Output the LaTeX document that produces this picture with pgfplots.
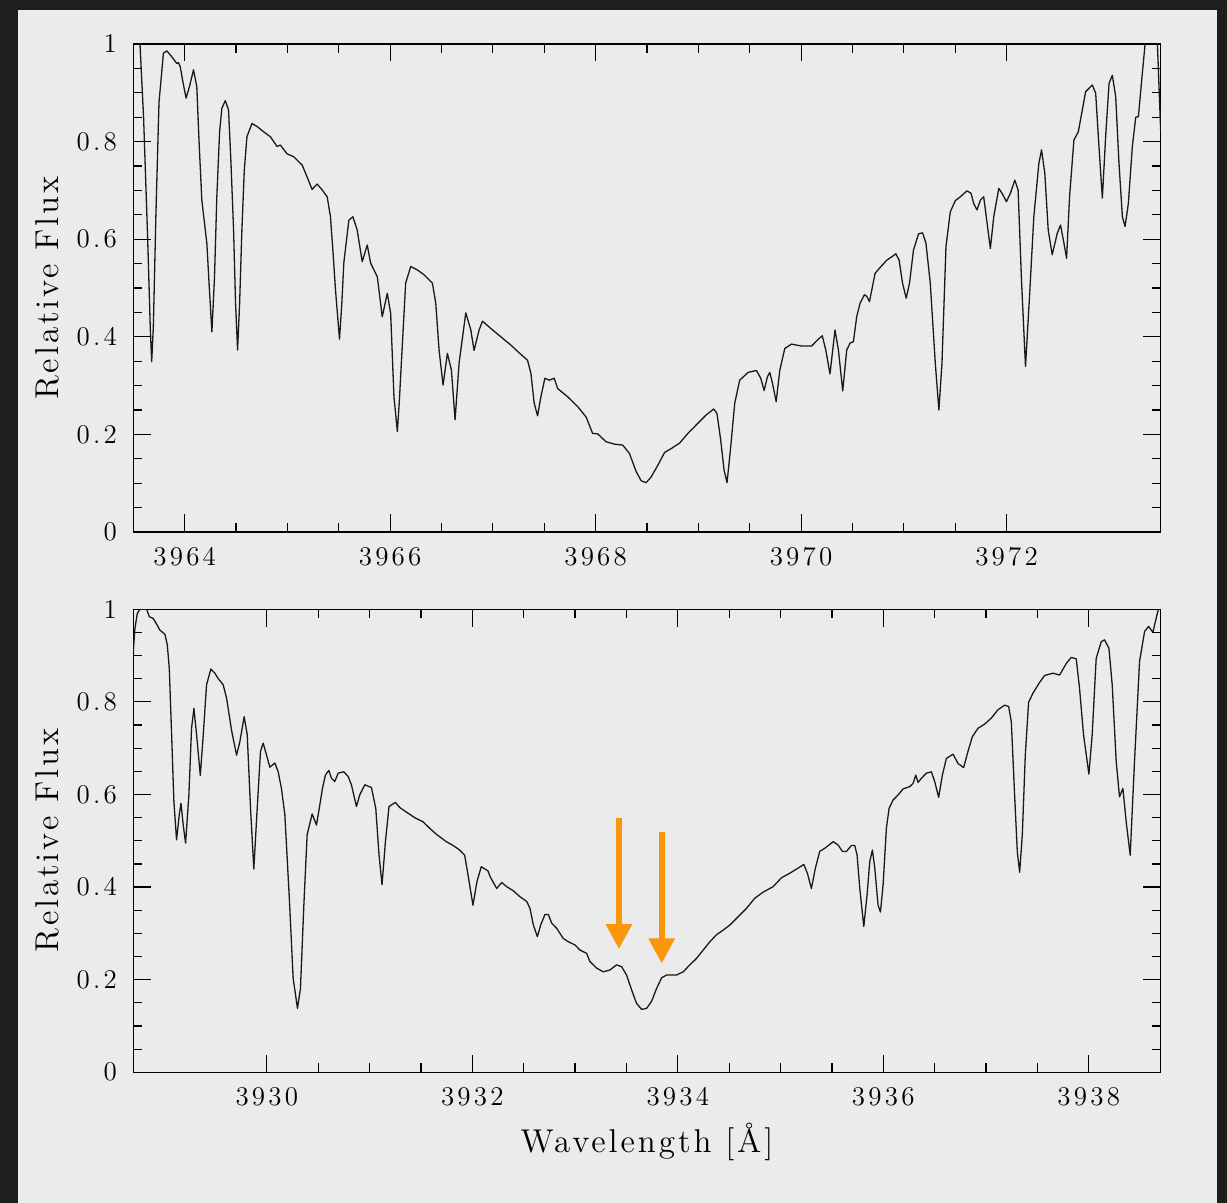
\documentclass[border=0pt]{standalone}
\usepackage{fontspec}
\usepackage{pgfplots}
\pgfplotsset{compat=1.18}
\usetikzlibrary{arrows.meta}
\definecolor{panel}{RGB}{235,235,235}
\definecolor{framecol}{RGB}{30,30,30}
\definecolor{arroworange}{RGB}{250,150,10}
\newfontfamily\lmlbl{lmroman12-regular}[Extension=.otf, LetterSpace=9]
\newfontfamily\lmtick{lmroman12-regular}[Extension=.otf, LetterSpace=12]
\newcommand\lblfont{\lmlbl\fontsize{16.5}{19}\selectfont}
\newcommand\tickfont{\lmtick\fontsize{13.5}{15}\selectfont}

\pgfplotsset{
  spec/.style={
    scale only axis, width=513.7pt,
    axis line style={line width=0.65pt},
    major tick length=8.75pt, minor tick length=4.4pt,
    every tick/.style={black, line width=0.6pt},
    tick align=inside,
    minor x tick num=3, minor y tick num=3,
    ymin=0, ymax=1, ytick={0,0.2,0.4,0.6,0.8,1},
    scaled ticks=false,
    /pgf/number format/assume math mode=true,
    /pgf/number format/1000 sep={},
    ticklabel style={font=\tickfont},
    yticklabel style={anchor=east, inner xsep=0pt, xshift=-8pt},
    xticklabel style={anchor=base, inner ysep=0pt, yshift=-16.7pt},
    every axis y label/.style={at={(axis description cs:-0.0832,0.5)}, rotate=90, anchor=center, font=\lblfont},
    every axis x label/.style={at={(axis description cs:0.5,0)}, anchor=base, yshift=-40pt, font=\lblfont},
    ylabel={Relative Flux},
  },
  spec line/.style={black!90, line width=0.65pt, line join=round}
}

\begin{document}
\begin{tikzpicture}
\fill[framecol] (0,0) rectangle (613.5pt,601.5pt);
\fill[panel] (9pt,0) rectangle (608.35pt,596.5pt);

\begin{axis}[spec, at={(66.65pt,335.5pt)}, anchor=south west, height=244pt,
  xmin=3963.5, xmax=3973.5, xtick={3964,3966,3968,3970,3972}]
\addplot[spec line] table {
3963.500 1.12
3963.565 1.00
3963.600 0.85
3963.640 0.60
3963.665 0.42
3963.679 0.349
3963.695 0.42
3963.720 0.65
3963.750 0.88
3963.793 0.981
3963.826 0.986
3963.874 0.974
3963.923 0.960
3963.939 0.962
3963.956 0.954
3963.985 0.92
3964.014 0.889
3964.047 0.913
3964.086 0.947
3964.118 0.913
3964.140 0.80
3964.167 0.680
3964.216 0.591
3964.240 0.50
3964.265 0.410
3964.290 0.52
3964.313 0.687
3964.340 0.82
3964.362 0.868
3964.395 0.884
3964.427 0.865
3964.450 0.76
3964.476 0.619
3964.495 0.47
3964.515 0.373
3964.535 0.47
3964.557 0.619
3964.580 0.74
3964.606 0.810
3964.655 0.837
3964.704 0.831
3964.769 0.820
3964.834 0.810
3964.899 0.790
3964.931 0.793
3964.996 0.775
3965.061 0.769
3965.143 0.752
3965.191 0.728
3965.240 0.702
3965.289 0.713
3965.338 0.701
3965.387 0.687
3965.419 0.646
3965.445 0.57
3965.468 0.496
3965.507 0.395
3965.530 0.47
3965.549 0.551
3965.598 0.639
3965.637 0.646
3965.679 0.619
3965.728 0.554
3965.777 0.588
3965.810 0.551
3965.875 0.523
3965.923 0.441
3965.972 0.489
3966.005 0.448
3966.037 0.277
3966.070 0.206
3966.090 0.27
3966.109 0.346
3966.151 0.510
3966.200 0.544
3966.265 0.537
3966.330 0.527
3966.411 0.510
3966.444 0.469
3966.476 0.373
3966.515 0.301
3966.557 0.366
3966.596 0.332
3966.632 0.230
3966.671 0.346
3966.736 0.449
3966.785 0.414
3966.817 0.372
3966.866 0.414
3966.899 0.432
3966.980 0.417
3967.077 0.400
3967.175 0.383
3967.256 0.367
3967.337 0.352
3967.370 0.325
3967.402 0.264
3967.435 0.238
3967.467 0.277
3967.506 0.315
3967.549 0.311
3967.597 0.315
3967.630 0.294
3967.728 0.277
3967.825 0.257
3967.906 0.236
3967.971 0.202
3968.020 0.201
3968.101 0.185
3968.183 0.180
3968.264 0.178
3968.329 0.161
3968.394 0.124
3968.443 0.105
3968.492 0.101
3968.541 0.113
3968.606 0.137
3968.671 0.163
3968.736 0.171
3968.817 0.182
3968.898 0.202
3968.996 0.223
3969.077 0.240
3969.149 0.252
3969.181 0.243
3969.217 0.189
3969.250 0.127
3969.279 0.101
3969.315 0.175
3969.354 0.264
3969.402 0.311
3969.484 0.327
3969.565 0.331
3969.607 0.315
3969.640 0.290
3969.672 0.318
3969.695 0.327
3969.721 0.305
3969.757 0.267
3969.793 0.332
3969.841 0.376
3969.906 0.385
3970.004 0.381
3970.102 0.381
3970.167 0.395
3970.206 0.402
3970.240 0.373
3970.281 0.324
3970.330 0.414
3970.363 0.373
3970.405 0.289
3970.444 0.373
3970.476 0.387
3970.509 0.390
3970.541 0.441
3970.574 0.469
3970.616 0.486
3970.639 0.483
3970.665 0.472
3970.688 0.496
3970.720 0.530
3970.769 0.542
3970.834 0.557
3970.883 0.564
3970.922 0.570
3970.954 0.557
3970.987 0.510
3971.023 0.479
3971.055 0.510
3971.094 0.578
3971.143 0.611
3971.182 0.613
3971.215 0.592
3971.257 0.510
3971.306 0.346
3971.341 0.250
3971.371 0.346
3971.410 0.585
3971.452 0.656
3971.501 0.679
3971.550 0.687
3971.615 0.699
3971.654 0.694
3971.680 0.673
3971.712 0.660
3971.745 0.680
3971.777 0.687
3971.810 0.633
3971.842 0.581
3971.875 0.646
3971.924 0.704
3971.956 0.694
3971.998 0.677
3972.037 0.694
3972.080 0.721
3972.112 0.701
3972.145 0.516
3972.184 0.339
3972.223 0.482
3972.265 0.646
3972.314 0.755
3972.340 0.783
3972.372 0.735
3972.405 0.619
3972.444 0.568
3972.493 0.612
3972.525 0.629
3972.558 0.592
3972.584 0.561
3972.613 0.687
3972.655 0.803
3972.698 0.820
3972.737 0.865
3972.769 0.902
3972.834 0.916
3972.867 0.899
3972.899 0.790
3972.932 0.684
3972.964 0.810
3972.997 0.919
3973.029 0.936
3973.062 0.892
3973.094 0.755
3973.127 0.646
3973.153 0.626
3973.185 0.673
3973.224 0.790
3973.257 0.850
3973.283 0.851
3973.315 0.926
3973.348 1.000
3973.380 1.06
3973.430 1.06
3973.468 1.00
3973.500 0.82
};
\end{axis}

\begin{axis}[spec, at={(66.65pt,65.35pt)}, anchor=south west, height=231.5pt,
  xmin=3928.7, xmax=3938.7, xtick={3930,3932,3934,3936,3938},
  xlabel={Wavelength [Å]}]
\addplot[spec line] table {
3928.700 0.909
3928.716 0.959
3928.739 0.991
3928.765 1.000
3928.830 1.000
3928.856 0.984
3928.894 0.980
3928.927 0.968
3928.959 0.955
3929.008 0.946
3929.031 0.923
3929.050 0.873
3929.073 0.729
3929.095 0.585
3929.121 0.502
3929.147 0.556
3929.164 0.581
3929.186 0.534
3929.209 0.495
3929.241 0.599
3929.267 0.743
3929.290 0.786
3929.316 0.729
3929.352 0.641
3929.381 0.729
3929.413 0.837
3929.455 0.871
3929.494 0.862
3929.527 0.850
3929.575 0.837
3929.608 0.808
3929.656 0.739
3929.705 0.685
3929.737 0.714
3929.779 0.768
3929.809 0.729
3929.841 0.570
3929.873 0.439
3929.906 0.570
3929.938 0.693
3929.964 0.711
3929.997 0.685
3930.029 0.659
3930.078 0.668
3930.110 0.649
3930.142 0.613
3930.175 0.556
3930.217 0.383
3930.256 0.203
3930.298 0.138
3930.327 0.181
3930.360 0.361
3930.392 0.513
3930.441 0.558
3930.483 0.534
3930.515 0.577
3930.541 0.613
3930.570 0.642
3930.603 0.652
3930.629 0.635
3930.661 0.628
3930.694 0.646
3930.749 0.649
3930.791 0.639
3930.823 0.621
3930.872 0.574
3930.904 0.599
3930.953 0.621
3931.018 0.615
3931.060 0.570
3931.092 0.469
3931.121 0.405
3931.154 0.498
3931.189 0.574
3931.251 0.583
3931.293 0.572
3931.358 0.562
3931.439 0.550
3931.520 0.541
3931.585 0.527
3931.650 0.514
3931.747 0.498
3931.812 0.490
3931.877 0.480
3931.925 0.469
3931.958 0.426
3932.006 0.361
3932.045 0.412
3932.087 0.444
3932.152 0.435
3932.172 0.423
3932.237 0.397
3932.286 0.410
3932.334 0.401
3932.399 0.392
3932.464 0.379
3932.529 0.369
3932.561 0.354
3932.594 0.318
3932.633 0.293
3932.665 0.318
3932.707 0.341
3932.740 0.341
3932.772 0.322
3932.821 0.311
3932.885 0.289
3932.934 0.282
3932.999 0.275
3933.047 0.264
3933.112 0.257
3933.145 0.239
3933.210 0.225
3933.274 0.217
3933.339 0.221
3933.404 0.232
3933.453 0.228
3933.501 0.210
3933.550 0.178
3933.598 0.149
3933.647 0.136
3933.696 0.138
3933.744 0.153
3933.793 0.181
3933.842 0.204
3933.890 0.210
3933.987 0.210
3934.052 0.217
3934.117 0.232
3934.182 0.246
3934.247 0.264
3934.312 0.282
3934.376 0.297
3934.441 0.307
3934.506 0.318
3934.587 0.336
3934.668 0.354
3934.749 0.376
3934.830 0.389
3934.928 0.401
3935.008 0.420
3935.090 0.430
3935.171 0.441
3935.226 0.449
3935.261 0.430
3935.300 0.397
3935.339 0.441
3935.381 0.477
3935.431 0.484
3935.512 0.498
3935.560 0.491
3935.602 0.477
3935.641 0.477
3935.690 0.490
3935.722 0.490
3935.745 0.469
3935.771 0.397
3935.810 0.315
3935.842 0.383
3935.868 0.455
3935.894 0.480
3935.917 0.441
3935.949 0.361
3935.972 0.346
3935.998 0.405
3936.030 0.527
3936.056 0.570
3936.095 0.588
3936.144 0.599
3936.192 0.612
3936.257 0.617
3936.290 0.624
3936.316 0.642
3936.338 0.626
3936.371 0.635
3936.419 0.646
3936.468 0.649
3936.500 0.628
3936.539 0.594
3936.575 0.642
3936.614 0.678
3936.679 0.687
3936.727 0.667
3936.782 0.658
3936.824 0.693
3936.867 0.725
3936.922 0.743
3936.986 0.752
3937.051 0.765
3937.116 0.783
3937.181 0.793
3937.220 0.790
3937.246 0.757
3937.278 0.599
3937.304 0.477
3937.327 0.432
3937.353 0.513
3937.382 0.685
3937.414 0.799
3937.457 0.819
3937.521 0.842
3937.570 0.857
3937.651 0.862
3937.716 0.858
3937.781 0.883
3937.829 0.896
3937.878 0.893
3937.910 0.829
3937.949 0.729
3938.001 0.644
3938.033 0.729
3938.072 0.894
3938.121 0.930
3938.153 0.934
3938.196 0.916
3938.228 0.837
3938.267 0.671
3938.299 0.595
3938.332 0.613
3938.364 0.541
3938.403 0.469
3938.445 0.671
3938.494 0.887
3938.543 0.952
3938.582 0.963
3938.624 0.950
3938.656 0.981
3938.700 1.02
};
\draw[arroworange, line width=2.85pt, -{Triangle[width=12.5pt,length=12.5pt]}]
  (axis cs:3933.427,0.550) -- (axis cs:3933.427,0.266);
\draw[arroworange, line width=2.85pt, -{Triangle[width=12.5pt,length=12.5pt]}]
  (axis cs:3933.843,0.518) -- (axis cs:3933.843,0.235);
\end{axis}
\end{tikzpicture}
\end{document}
